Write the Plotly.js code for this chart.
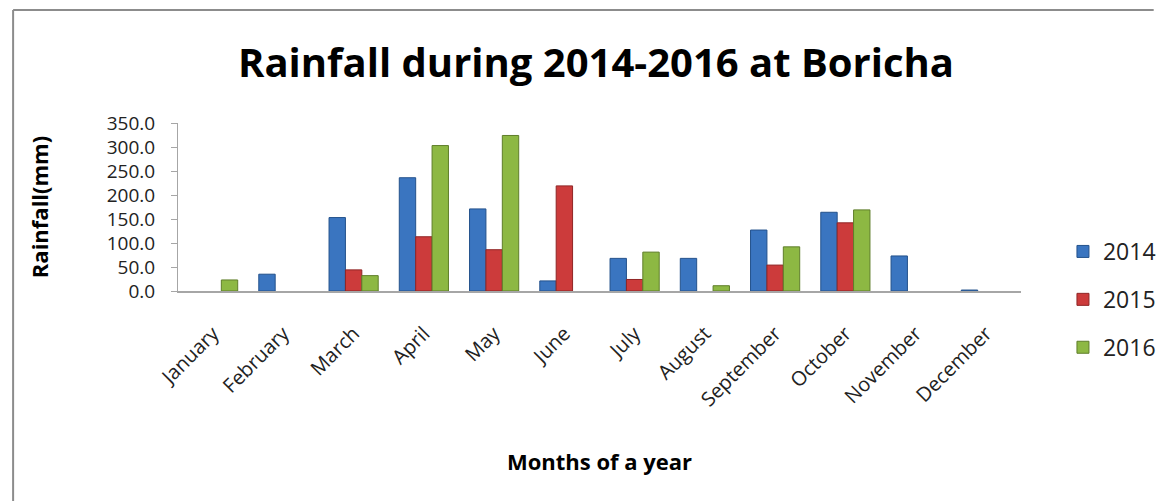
<!DOCTYPE html>
<html>
<head>
<meta charset="utf-8">
<script src="https://cdn.plot.ly/plotly-3.0.1.min.js"></script>
<style>html,body{margin:0;padding:0;background:#fff;}#chart{width:1173px;height:501px;}</style>
</head>
<body>
<div id="chart"></div>
<script>
const months = ["January","February","March","April","May","June","July","August","September","October","November","December"];
const rain2014 = [null, 35, 153, 236, 171, 21, 68, 68, 127, 164, 73, 2];
const rain2015 = [null, null, 44, 113, 86, 219, 24, null, 54, 142, null, null];
const rain2016 = [23, null, 32, 303, 324, null, 81, 11, 92, 169, null, null];
const yTicks = [0, 50, 100, 150, 200, 250, 300, 350];

const FONT = "Open Sans, Noto Sans, sans-serif";
function bar(name, vals, color, line) {
  return {
    type: "bar", name: name, x: months, y: vals, legendgroup: name,
    marker: {color: color, line: {color: line, width: 1}},
    hoverinfo: "x+y+name"
  };
}
const data = [
  bar("2014", rain2014, "#3A75C0", "#24528c"),
  bar("2015", rain2015, "#CC3B3B", "#8f2525"),
  bar("2016", rain2016, "#8DB843", "#5f7e2a")
];
const L = 178, R = 1042, T = 123, B = 291;
const W = 1173, H = 501;
const pw = R - L, ph = B - T;
const layout = {
  width: W, height: H,
  margin: {l: L, r: W - R, t: T, b: H - B, pad: 0},
  paper_bgcolor: "#fff", plot_bgcolor: "#fff",
  font: {family: FONT, color: "#222", size: 18},
  title: {text: "Rainfall during 2014-2016 at Boricha", font: {family: FONT, size: 40, color: "#000", weight: "bold"},
          x: 596 / W, xanchor: "center", xref: "container", y: 1 - 63 / H, yanchor: "middle", yref: "container"},
  barmode: "group", bargap: 0.3, bargroupgap: 0,
  showlegend: true,
  legend: {x: (1085 - L) / pw, xanchor: "left", y: (B - 230) / ph, yanchor: "top",
           font: {size: 23, family: FONT, color: "#222"}, traceorder: "grouped", tracegroupgap: 15,
           itemwidth: 30, bgcolor: "rgba(0,0,0,0)"},
  xaxis: {type: "category", tickangle: -45, showline: true, linecolor: "#a6a6a6", linewidth: 2,
          ticks: "", showgrid: false, zeroline: false, automargin: false, ticklabelstandoff: 21,
          tickfont: {size: 20, family: FONT, color: "#222"},
          title: {text: "Months of a year", font: {size: 22, family: FONT, color: "#000", weight: "bold"}, standoff: 43}},
  yaxis: {range: [0, 350], tickvals: yTicks, ticktext: yTicks.map(v => v.toFixed(1)), showline: true,
          linecolor: "#a6a6a6", linewidth: 1, ticks: "outside", ticklen: 6, tickcolor: "#a6a6a6",
          showgrid: false, zeroline: false, automargin: false, ticklabelstandoff: 12,
          tickfont: {size: 19, family: FONT, color: "#222"},
          title: {text: "Rainfall(mm)", font: {size: 22, family: FONT, color: "#000", weight: "bold"}, standoff: 52}},
  shapes: [
    {type: "line", xref: "paper", yref: "paper", x0: (9 - L) / pw, x1: (W + 5 - L) / pw, y0: (B - 10) / ph, y1: (B - 10) / ph, line: {color: "#8c8c8c", width: 2}},
    {type: "line", xref: "paper", yref: "paper", x0: (9 - L) / pw, x1: (9 - L) / pw, y0: (B - 10) / ph, y1: (B - H - 5) / ph, line: {color: "#8c8c8c", width: 2}}
  ]
};
Plotly.newPlot("chart", data, layout, {displayModeBar: false, staticPlot: true});
</script>
</body>
</html>
